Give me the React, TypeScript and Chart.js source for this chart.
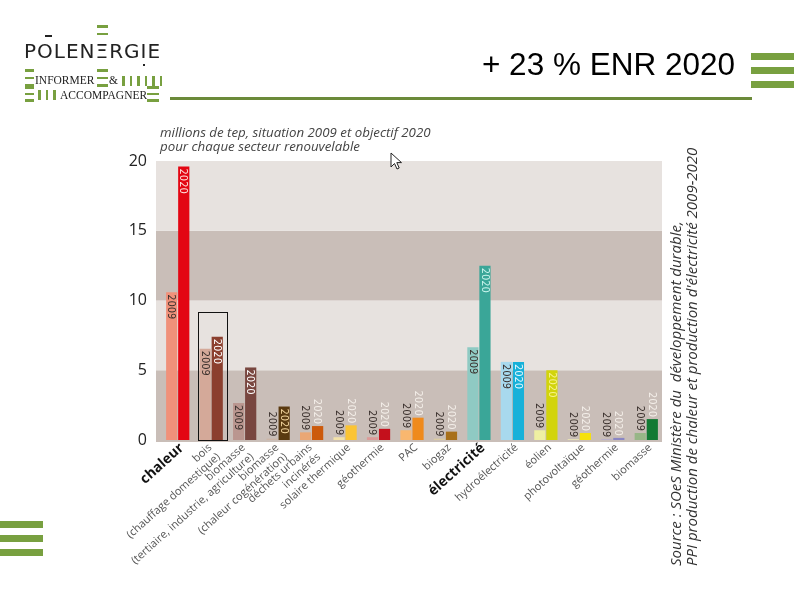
import React, { useEffect, useRef } from "react";
import { Chart, registerables } from "chart.js";

Chart.register(...registerables);

const categories: (string | string[])[] = [
  "chaleur",
  ["bois", "(chauffage domestique)"],
  ["biomasse", "(tertiaire, industrie, agriculture)"],
  ["biomasse", "(chaleur cogénération)"],
  ["déchets urbains", "incinérés"],
  "solaire thermique",
  "géothermie",
  "PAC",
  "biogaz",
  "électricité",
  "hydroélectricité",
  "éolien",
  "photovoltaïque",
  "géothermie",
  "biomasse",
];

const values2009 = [10.6, 6.55, 2.65, 0.1, 0.55, 0.2, 0.2, 0.7, 0.1, 6.65, 5.6, 0.7, 0.05, 0.05, 0.5];
const values2020 = [19.6, 7.4, 5.2, 2.4, 1.0, 1.05, 0.8, 1.6, 0.6, 12.5, 5.6, 5.0, 0.5, 0.15, 1.5];

const colors2009 = [
  "#f0917a", "#d4a999", "#ba968f", "#cdb6a6", "#eaa775", "#f3e2a9", "#dc9a98", "#f9b76f",
  "#dccca2", "#8fcac3", "#a8d9ee", "#eff0a2", "#f4efb4", "#b3acd2", "#97b687",
];
const colors2020 = [
  "#e30613", "#8b3f2e", "#78463f", "#5a3a10", "#cc5a0c", "#fbc434", "#c4101c", "#ef8a1c",
  "#a8701a", "#3aa698", "#17b1d9", "#d2d40c", "#f6e10c", "#8a86c4", "#137a34",
];
const labelColors2020 = [
  "#ffe2dc", "#ffffff", "#ffffff", "#f2d49c", "#f4efe9", "#f4efe9", "#f4efe9", "#f4efe9",
  "#f4efe9", "#c9f4ec", "#e4f8ff", "#f7f38c", "#f4efe9", "#f4efe9", "#f4efe9",
];
const seriesLabels = ["2009", "2020"];
const yTicks = [0, 5, 10, 15, 20];
const boldIndexes = [0, 9];
const framedIndex = 1;
const framedTop = 9.2;

const GREEN = "#78a040";
const LINE_GREEN = "#6b8a3a";
const BAND_DARK = "#c9beb8";
const BAND_LIGHT = "#e7e2df";
const LABEL_ANGLE = (-42 * Math.PI) / 180;

const bandPlugin = {
  id: "bands",
  beforeDatasetsDraw(chart: any) {
    const { ctx, chartArea, scales } = chart;
    const y = scales.y;
    ctx.save();
    for (let i = 0; i < yTicks.length - 1; i++) {
      const top = y.getPixelForValue(yTicks[i + 1]);
      const bot = y.getPixelForValue(yTicks[i]) + (i === 0 ? 2 : 0);
      ctx.fillStyle = i % 2 === 0 ? BAND_DARK : BAND_LIGHT;
      ctx.fillRect(chartArea.left - 5, top, chartArea.right - chartArea.left + 4, bot - top);
    }
    ctx.restore();
  },
};

const barLabelPlugin = {
  id: "barLabels",
  afterDatasetsDraw(chart: any) {
    const { ctx } = chart;
    ctx.save();
    ctx.font = "11px 'DejaVu Sans Condensed', 'Liberation Sans Narrow', sans-serif";
    ctx.textBaseline = "middle";
    chart.data.datasets.forEach((ds: any, di: number) => {
      const meta = chart.getDatasetMeta(di);
      meta.data.forEach((el: any, i: number) => {
        const h = el.base - el.y;
        const inside = h >= 28;
        ctx.save();
        ctx.translate(el.x, inside ? el.y + 2 : el.y - 2);
        ctx.rotate(Math.PI / 2);
        ctx.textAlign = inside ? "left" : "right";
        ctx.fillStyle = di === 0 ? "#3a302c" : labelColors2020[i];
        ctx.fillText(seriesLabels[di], 0, 0.5);
        ctx.restore();
      });
    });
    const m0 = chart.getDatasetMeta(0).data[framedIndex];
    const m1 = chart.getDatasetMeta(1).data[framedIndex];
    if (m0 && m1) {
      const y = chart.scales.y;
      const left = m0.x - m0.width / 2 - 2;
      const right = m1.x + m1.width / 2 + 4;
      const top = y.getPixelForValue(framedTop);
      const bot = chart.chartArea.bottom;
      ctx.strokeStyle = "#111";
      ctx.lineWidth = 1;
      ctx.strokeRect(Math.round(left) + 0.5, Math.round(top) + 0.5, Math.round(right - left), Math.round(bot - top));
    }
    ctx.restore();
  },
};

const xLabelPlugin = {
  id: "xLabels",
  afterDraw(chart: any) {
    const { ctx, chartArea } = chart;
    const x = chart.scales.x;
    ctx.save();
    categories.forEach((lab, i) => {
      const lines = Array.isArray(lab) ? lab : [lab];
      const bold = boldIndexes.includes(i);
      const size = bold ? 14 : 11;
      const lh = bold ? 16 : 12.5;
      ctx.font = `${bold ? "bold " : ""}${size}px 'Open Sans', sans-serif`;
      ctx.fillStyle = bold ? "#111" : "#555";
      ctx.textAlign = "right";
      ctx.textBaseline = "middle";
      ctx.save();
      ctx.translate(x.getPixelForValue(i) + (lines.length > 1 ? -1 : 4), chartArea.bottom + 6);
      ctx.rotate(LABEL_ANGLE);
      lines.forEach((ln, k) => ctx.fillText(ln, 0, k * lh));
      ctx.restore();
    });
    ctx.restore();
  },
};

function GreenXi({ x, y, w, gap }: { x: number; y: number; w: number; gap: number }) {
  return (
    <>
      {[0, 1, 2].map((k) => (
        <div
          key={k}
          style={{ position: "absolute", left: x, top: y + k * gap, width: w, height: 2.5, background: GREEN }}
        />
      ))}
    </>
  );
}

function Bars({ x, y, n, h }: { x: number; y: number; n: number; h: number }) {
  return (
    <>
      {Array.from({ length: n }).map((_, k) => (
        <div
          key={k}
          style={{ position: "absolute", left: x + k * 7.5, top: y, width: 2.5, height: h, background: GREEN }}
        />
      ))}
    </>
  );
}

export default function App() {
  const canvasRef = useRef<HTMLCanvasElement | null>(null);

  useEffect(() => {
    if (!canvasRef.current) return;
    const chart = new Chart(canvasRef.current, {
      type: "bar",
      data: {
        labels: categories,
        datasets: [
          {
            label: seriesLabels[0],
            data: values2009,
            backgroundColor: colors2009,
            categoryPercentage: 0.72,
            barPercentage: 0.93,
          },
          {
            label: seriesLabels[1],
            data: values2020,
            backgroundColor: colors2020,
            categoryPercentage: 0.72,
            barPercentage: 0.93,
          },
        ],
      },
      options: {
        responsive: false,
        animation: false,
        layout: { padding: { left: 0, top: 161, right: 131, bottom: 0 } },
        plugins: {
          legend: { display: false },
          tooltip: { enabled: false },
        },
        scales: {
          x: {
            grid: { display: false, drawTicks: false },
            border: { display: false },
            ticks: { display: false },
            afterFit: (s: any) => {
              s.height = 155;
            },
          },
          y: {
            min: 0,
            max: 20,
            grid: { display: false, drawTicks: false },
            border: { display: false },
            ticks: {
              stepSize: 5,
              padding: 14,
              color: "#222",
              font: { family: "'Open Sans', sans-serif", size: 16 },
            },
            afterFit: (s: any) => {
              s.width = 161;
            },
          },
        },
      } as any,
      plugins: [bandPlugin, barLabelPlugin, xLabelPlugin],
    });
    return () => chart.destroy();
  }, []);

  const serif: React.CSSProperties = {
    position: "absolute",
    fontFamily: "'Liberation Serif', serif",
    fontSize: 11.5,
    lineHeight: "12px",
    color: "#222",
    whiteSpace: "nowrap",
  };

  return (
    <div
      style={{
        position: "fixed",
        left: 0,
        top: 0,
        width: 794,
        height: 595,
        background: "#fff",
        overflow: "hidden",
        fontFamily: "'Open Sans', sans-serif",
      }}
    >
      <canvas ref={canvasRef} width={794} height={595} style={{ position: "absolute", left: 0, top: 0 }} />

      {/* Logo */}
      <div style={{ position: "absolute", left: 97, top: 25, width: 11, height: 3, background: GREEN }} />
      <div style={{ position: "absolute", left: 97, top: 33, width: 11, height: 2, background: GREEN }} />
      <div style={{ position: "absolute", left: 45, top: 35, width: 7, height: 2, background: "#222" }} />
      <div
        style={{
          position: "absolute",
          left: 24,
          top: 41,
          fontFamily: "'DejaVu Sans', sans-serif",
          fontSize: 20,
          lineHeight: "20px",
          letterSpacing: 1,
          color: "#222",
          whiteSpace: "nowrap",
        }}
      >
        POLENΞRGIE
      </div>
      <div style={{ position: "absolute", left: 143, top: 64, width: 2, height: 2, background: "#222" }} />

      <GreenXi x={25} y={69} w={9} gap={7.5} />
      <div style={{ ...serif, left: 35, top: 74 }}>INFORMER</div>
      <GreenXi x={97} y={69} w={11} gap={7.5} />
      <div style={{ ...serif, left: 109, top: 74 }}>&amp;</div>
      <Bars x={122} y={76} n={6} h={10} />

      <GreenXi x={25} y={86} w={9} gap={6.5} />
      <Bars x={38} y={90} n={3} h={10} />
      <div style={{ ...serif, left: 60, top: 89 }}>ACCOMPAGNER</div>
      <GreenXi x={147} y={86} w={12} gap={6.5} />

      {/* Header line & title */}
      <div style={{ position: "absolute", left: 170, top: 97, width: 582, height: 3, background: LINE_GREEN }} />
      <div
        style={{
          position: "absolute",
          right: 59,
          top: 49,
          fontFamily: "'Liberation Sans', Arial, sans-serif",
          fontSize: 31.5,
          lineHeight: "31px",
          color: "#000",
          whiteSpace: "nowrap",
        }}
      >
        + 23 % ENR 2020
      </div>
      {[53, 67, 81].map((t) => (
        <div key={t} style={{ position: "absolute", left: 751, top: t, width: 43, height: 7, background: GREEN }} />
      ))}
      {[521, 535, 549].map((t) => (
        <div key={t} style={{ position: "absolute", left: 0, top: t, width: 43, height: 7, background: GREEN }} />
      ))}

      {/* Chart caption */}
      <div
        style={{
          position: "absolute",
          left: 160,
          top: 126,
          fontStyle: "italic",
          fontSize: 13.3,
          lineHeight: "13.5px",
          color: "#444",
          whiteSpace: "nowrap",
        }}
      >
        millions de tep, situation 2009 et objectif 2020
        <br />
        pour chaque secteur renouvelable
      </div>

      {/* Source */}
      <div
        style={{
          position: "absolute",
          left: 667,
          top: 566,
          transform: "rotate(-90deg)",
          transformOrigin: "left top",
          fontStyle: "italic",
          fontSize: 15,
          lineHeight: "16px",
          color: "#333",
          whiteSpace: "nowrap",
        }}
      >
        Source : SOeS Ministère du&nbsp; développement durable,
        <br />
        PPI production de chaleur et production d'électricité 2009-2020
      </div>

      {/* mouse cursor */}
      <svg style={{ position: "absolute", left: 390, top: 152 }} width="14" height="20" viewBox="0 0 14 20">
        <path d="M1 1 L1 15 L4.5 11.5 L7 17 L9.2 16 L6.8 10.6 L11.5 10.6 Z" fill="#fff" stroke="#222" strokeWidth="1" />
      </svg>
    </div>
  );
}
